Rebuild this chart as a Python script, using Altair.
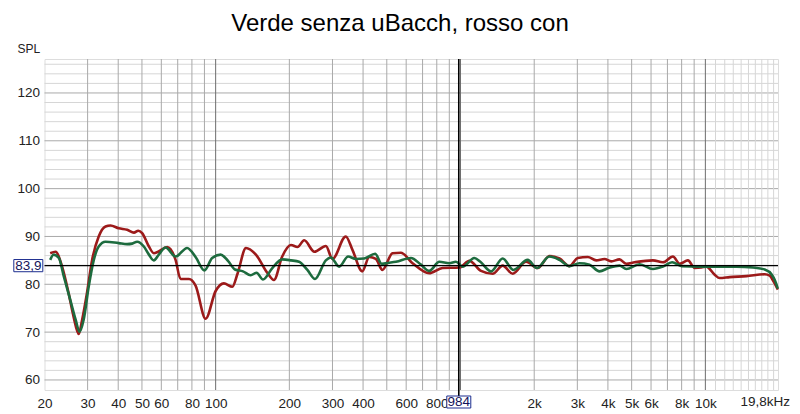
import altair as alt
import pandas as pd

FONT = "Liberation Sans"

title_text = "Verde senza uBacch, rosso con"

red_freq = [21.1, 22.2, 23.6, 25.1, 26.3, 27.6, 28.5, 29.8, 31.3, 33.3, 35.5, 37.2, 40.2, 43.5, 46.4, 48.3,
            50.1, 53.4, 55.9, 58.2, 63.4, 68.6, 71.9, 77.8, 82.8, 91.0, 100, 108, 117, 123, 133, 146, 163,
            173, 187, 203, 216, 230, 253, 282, 300, 340, 362, 397, 424, 451, 480, 528, 571, 637, 745, 845,
            989, 1087, 1213, 1353, 1487, 1634, 1853, 2067, 2308, 2536, 2786, 3013, 3311, 3583, 3873, 4126,
            4461, 4753, 5138, 6105, 6708, 7370, 7852, 8488, 9042, 9630, 10094, 10914, 11441, 12571, 14716,
            17477, 18323, 19032, 19760]
red_spl = [86.5, 86.8, 83.7, 78.1, 73.2, 69.6, 72.6, 78.1, 85.1, 90.0, 92.1, 92.3, 91.7, 91.4, 90.8, 91.2,
           90.7, 87.9, 86.5, 86.8, 87.8, 85.1, 81.1, 81.1, 79.7, 72.8, 78.6, 80.2, 79.5, 82.3, 87.6, 86.2, 82.3,
           80.9, 85.8, 88.2, 87.8, 89.2, 86.8, 88.0, 85.3, 90.0, 87.2, 82.7, 85.7, 85.3, 83.0, 86.5, 86.6, 84.4,
           82.3, 83.4, 83.5, 84.9, 82.8, 82.2, 83.9, 82.2, 84.7, 83.4, 85.9, 85.4, 83.8, 85.5, 85.7, 85.0, 85.3,
           84.8, 85.2, 84.3, 84.6, 85.0, 84.6, 85.8, 84.3, 85.0, 83.4, 83.5, 83.7, 82.0, 81.3, 81.5, 81.7, 82.1,
           81.8, 80.5, 78.9]

green_freq = [21.1, 21.8, 22.9, 24.0, 25.5, 26.8, 27.8, 28.9, 30.3, 31.8, 33.3, 35.5, 40.2, 43.5, 45.6, 47.8,
              50.9, 53.4, 55.9, 58.6, 62.4, 68.6, 76.5, 82.8, 90.0, 96.8, 104.8, 112.3, 119.9, 129.3, 139,
              146.9, 156.1, 170.4, 187.3, 203.2, 219.1, 236.9, 254.7, 281.8, 295.4, 319.4, 347.6, 373.6, 404.2,
              448.2, 476.4, 511.4, 544.6, 627.5, 689.5, 745.3, 819.3, 900.1, 958.5, 1020, 1139, 1205, 1333,
              1487, 1644, 1881, 2052, 2308, 2536, 2786, 3060, 3365, 3696, 4023, 4461, 4753, 5386, 6105, 6708,
              7314, 8001, 9478, 10414, 13393, 15654, 17477, 18685, 19207, 19760]
green_spl = [85.1, 86.2, 85.5, 81.6, 76.7, 72.6, 70.1, 72.6, 79.5, 85.1, 87.9, 88.9, 88.6, 88.4, 88.5, 88.9,
             87.9, 86.2, 85.0, 86.2, 87.7, 85.8, 87.6, 85.7, 82.9, 85.5, 86.2, 84.9, 83.1, 82.7, 81.9, 82.4,
             81.0, 83.4, 85.2, 85.0, 84.7, 83.0, 81.1, 85.0, 85.6, 83.7, 85.8, 85.3, 85.4, 86.4, 84.3, 84.5,
             84.7, 85.5, 84.1, 82.8, 84.7, 84.4, 84.7, 83.7, 85.5, 84.7, 82.7, 85.4, 83.0, 85.1, 83.4, 85.8,
             85.1, 83.8, 84.4, 84.1, 82.7, 83.4, 83.9, 83.2, 84.2, 83.2, 83.7, 84.6, 83.8, 83.7, 83.7, 83.7,
             83.5, 83.1, 82.0, 80.9, 79.1]

x_grid_major = [100, 1000, 10000]
x_grid_minor = [30, 40, 50, 60, 70, 80, 90, 200, 300, 400, 500, 600, 700, 800, 900,
                2000, 3000, 4000, 5000, 6000, 7000, 8000, 9000]
x_grid_fine = [11000, 12000, 13000, 14000, 15000, 16000, 17000, 18000, 19000]
y_grid_major = [60, 70, 80, 90, 100, 110, 120]
y_grid_minor = [v for v in range(62, 127, 2) if v % 10 != 0]
x_tick_values = [20, 30, 40, 50, 60, 80, 100, 200, 300, 400, 600, 800,
                 2000, 3000, 4000, 5000, 6000, 8000, 10000]
y_tick_values = [60, 70, 80, 90, 100, 110, 120]
cursor_freq = 984
cursor_spl = 83.9
end_freq = 19800
end_label = "19,8kHz"

red = pd.DataFrame({"f": red_freq, "v": red_spl})
green = pd.DataFrame({"f": green_freq, "v": green_spl})

xs = alt.Scale(type="log", domain=[20, 19800], nice=False)
ys = alt.Scale(domain=[57.9, 127.1], nice=False, zero=False)

LS = 13.5
xaxis = alt.Axis(values=x_tick_values, grid=False, ticks=False, domain=False, labelOverlap=False,
                 labelBound=False, labelFlush=False,
                 labelExpr="datum.value >= 1000 ? (datum.value/1000) + 'k' : datum.value",
                 labelFont=FONT, labelFontSize=LS, labelColor="#222222", labelPadding=6, title="")
yaxis = alt.Axis(values=y_tick_values, grid=False, ticks=False, domain=False, labelOverlap=False,
                 labelFont=FONT, labelFontSize=LS, labelColor="#222222", labelPadding=5,
                 title="SPL", titleAngle=0, titleAlign="left", titleBaseline="middle",
                 titleX=-27.5, titleY=-11, titleFont=FONT, titleFontSize=12,
                 titleFontWeight="normal", titleColor="#222222")

X = alt.X("f:Q", scale=xs, axis=xaxis, title="")
Y = alt.Y("v:Q", scale=ys, axis=yaxis, title="SPL")

def vrules(vals, color, width=1):
    return alt.Chart(pd.DataFrame({"f": vals})).mark_rule(color=color, strokeWidth=width).encode(x=X)

def hrules(vals, color, width=1):
    return alt.Chart(pd.DataFrame({"v": vals})).mark_rule(color=color, strokeWidth=width).encode(y=Y)

layers = [
    hrules(y_grid_minor, "#d6d6d6"),
    hrules(y_grid_major, "#a9a9a9"),
    vrules(x_grid_fine, "#d6d6d6"),
    vrules(x_grid_minor, "#a9a9a9"),
    vrules(x_grid_major, "#6e6e6e"),
    alt.Chart(red).mark_line(color="#9c1a1a", strokeWidth=2.6, interpolate="monotone").encode(x=X, y=Y),
    alt.Chart(green).mark_line(color="#1d6b3e", strokeWidth=2.6, interpolate="monotone").encode(x=X, y=Y),
    alt.Chart(pd.DataFrame({"v": [cursor_spl]})).mark_rule(color="black", strokeWidth=1.4).encode(y=Y),
    alt.Chart(pd.DataFrame({"f": [cursor_freq]})).mark_rule(color="black", strokeWidth=1.6).encode(
        x=X, y=alt.value(0), y2=alt.value(337)),
    alt.Chart(pd.DataFrame({"v": [cursor_spl]})).mark_point(
        shape="M-1,-0.42L1,-0.42L1,0.42L-1,0.42Z", size=841, filled=True, fill="white",
        stroke="#1c2d8f", strokeWidth=1, opacity=1).encode(x=alt.value(-16.2), y=Y),
    alt.Chart(pd.DataFrame({"v": [cursor_spl], "t": ["83,9"]})).mark_text(
        font=FONT, fontSize=LS, color="#14145a", baseline="middle", align="center").encode(
        x=alt.value(-16.2), y=Y, text="t:N"),
    alt.Chart(pd.DataFrame({"f": [cursor_freq]})).mark_point(
        shape="M-1,-0.5L1,-0.5L1,0.5L-1,0.5Z", size=576, filled=True, fill="white",
        stroke="#1c2d8f", strokeWidth=1, opacity=1).encode(x=X, y=alt.value(343)),
    alt.Chart(pd.DataFrame({"f": [cursor_freq], "t": ["984"]})).mark_text(
        font=FONT, fontSize=LS, color="#14145a", baseline="middle", align="center").encode(
        x=X, y=alt.value(343), text="t:N"),
    alt.Chart(pd.DataFrame({"f": [end_freq], "t": [end_label]})).mark_text(
        font=FONT, fontSize=LS, color="#222222", baseline="middle", align="right", dx=12).encode(
        x=X, y=alt.value(343), text="t:N"),
    alt.Chart(pd.DataFrame({"t": [title_text]})).mark_text(
        font=FONT, fontSize=24, color="black", baseline="alphabetic", align="center").encode(
        x=alt.value(355.5), y=alt.value(-28), text="t:N"),
]

chart = alt.layer(*layers).properties(
    width=733.5, height=331,
    autosize=alt.AutoSizeParams(type="none"),
    padding={"left": 36.5, "top": 51, "right": 14, "bottom": 22},
).configure_view(stroke="#9a9a9a", strokeWidth=2).configure(background="white")

chart.save("out.html", embed_options={"renderer": "svg", "actions": False})
